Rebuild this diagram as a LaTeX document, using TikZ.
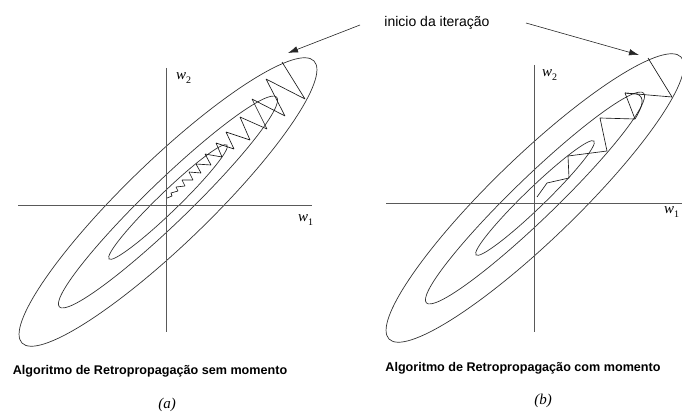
\documentclass[tikz,border=0pt]{standalone}
\usepackage{fontspec}
\setmainfont{Liberation Sans}
\newfontfamily\serifit{Liberation Serif}
\usetikzlibrary{arrows.meta}

\tikzset{
  contour/.style={line width=0.7pt, black!80},
  axis/.style={line width=0.6pt, black!65},
  zigzag/.style={line width=0.65pt, black!90, line join=bevel},
  pointer/.style={-{Latex[length=10pt, width=6.5pt]}, line width=0.6pt, black!85},
  weight/.style={font=\serifit\itshape\fontsize{15}{16}\selectfont, inner sep=0pt},
  caption/.style={font=\bfseries\fontsize{12.6}{14}\selectfont, inner sep=0pt},
}

\begin{document}
\begin{tikzpicture}[x=1pt, y=-1pt, >=Stealth]
\useasboundingbox (0,0) rectangle (682,417);

    % Centres of the two error surfaces
    \coordinate (ca) at (168,202);
    \coordinate (cb) at (535,198);

    % Contours
    \foreach \c in {ca, cb} {
        \draw[contour] (\c) circle[x radius=203, y radius=42, rotate=44];
        \draw[contour] (\c) circle[x radius=151, y radius=21, rotate=44];
        \draw[contour] (\c) circle[x radius=82, y radius=10, rotate=44];
    }

    % Axes
    \coordinate (ha0) at (18,205);  \coordinate (ha1) at (312,205);
    \coordinate (va0) at (166,68);  \coordinate (va1) at (166,332);
    \coordinate (hb0) at (386,203); \coordinate (hb1) at (682,203);
    \coordinate (vb0) at (534,65);  \coordinate (vb1) at (534,332);
    \draw[axis] (ha0) -- (ha1);
    \draw[axis] (va0) -- (va1);
    \draw[axis] (hb0) -- (hb1);
    \draw[axis] (vb0) -- (vb1);

    % Axis labels
    \node[weight, anchor=west] (w2a) at (176,78) {w\raisebox{-4pt}{\upshape\fontsize{10}{10}\selectfont 2}};
    \node[weight, anchor=west] (w1a) at (298,220) {w\raisebox{-4pt}{\upshape\fontsize{10}{10}\selectfont 1}};
    \node[weight, anchor=west] (w2b) at (542,75) {w\raisebox{-4pt}{\upshape\fontsize{10}{10}\selectfont 2}};
    \node[weight, anchor=west] (w1b) at (664,212) {w\raisebox{-4pt}{\upshape\fontsize{10}{10}\selectfont 1}};

    % Start of the iterations
    \coordinate (sa) at (282,62);
    \coordinate (sb) at (648,58);

    % Path without momentum
    \draw[zigzag] (sa) -- (305,99) -- (266,79) -- (285,116) -- (252,99)
        -- (267,129) -- (240,117) -- (250,140) -- (226,132) -- (234,149)
        -- (216,143) -- (222,157) -- (205,154) -- (211,165) -- (196,164)
        -- (201,173) -- (189,172) -- (193,180) -- (182,180) -- (185,186)
        -- (176,187) -- (178,191) -- (171,193) -- (172,196) -- (167,198);

    % Path with momentum
    \draw[zigzag] (sb) -- (672,97) -- (625,93) -- (635,119) -- (600,118)
        -- (607,151) -- (568,156) -- (569,178) -- (547,183) -- (537,197);
    \draw[zigzag] (625,93) -- (637,94) .. controls (645,97) and (643,106) .. (635,119);

    % Annotation
    \node (iter) at (437,23) {\fontsize{14}{16}\selectfont inicio da itera\c{c}\~ao};
    \coordinate (la) at (360,25);
    \coordinate (lb) at (526,23);
    \coordinate (ta) at (288,53);
    \coordinate (tb) at (639,55);
    \draw[pointer] (la) -- (ta);
    \draw[pointer] (lb) -- (tb);

    % Captions
    \node[caption] (capa) at (150,371) {Algoritmo de Retropropaga\c{c}\~ao sem momento};
    \node[caption] (capb) at (523,368) {Algoritmo de Retropropaga\c{c}\~ao com momento};
    \node[weight] (taga) at (167,405) {(a)};
    \node[weight] (tagb) at (543,401) {(b)};

\end{tikzpicture}
\end{document}
